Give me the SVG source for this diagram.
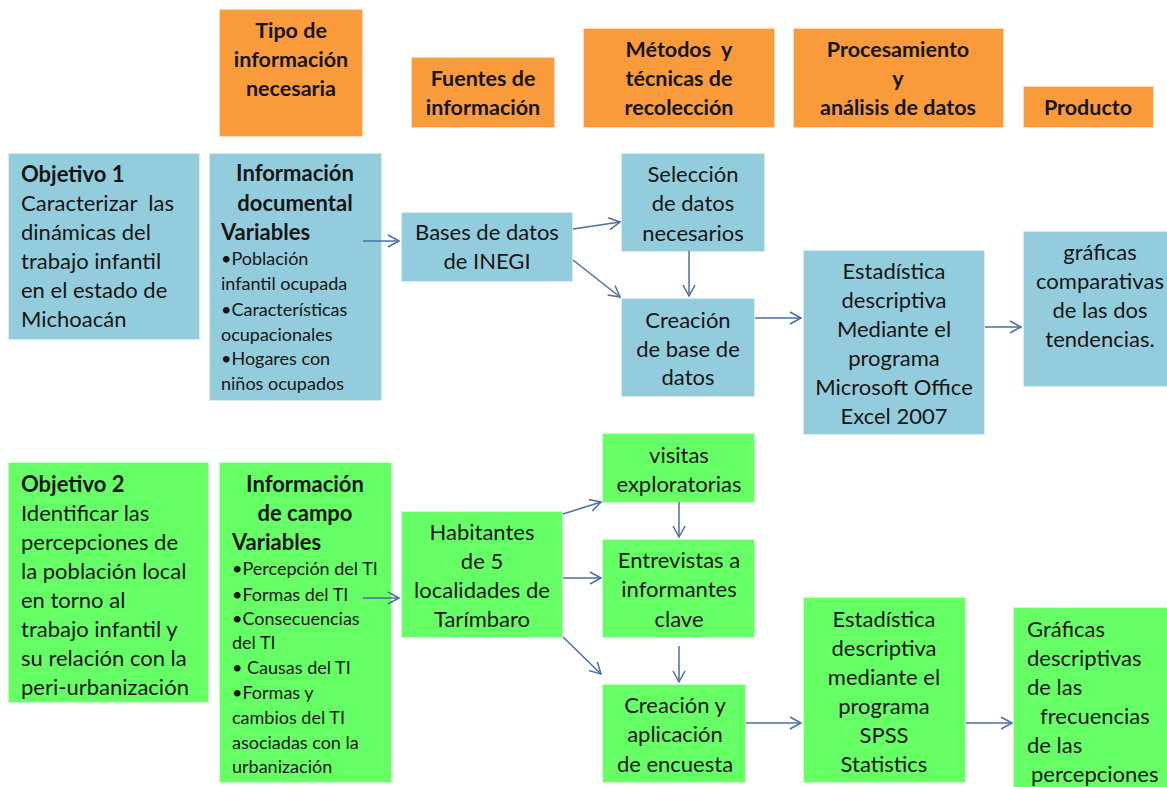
<svg xmlns="http://www.w3.org/2000/svg" width="1167" height="787" viewBox="0 0 1167 787">
<style>
.hdr{fill:#F99B3B;stroke:#FFD9B3;stroke-width:1}
.blu{fill:#93CDDD;stroke:#D4ECF2;stroke-width:1}
.grn{fill:#66FF66;stroke:#C8FFC8;stroke-width:1}
text{font-family:Lato,"Open Sans","Liberation Sans",sans-serif;fill:#151515}
.h{font-size:21.5px;font-weight:bold;text-anchor:middle}
.t{font-size:22px}
.c{text-anchor:middle}
.b{font-weight:bold}
.s{font-size:18px}
.cn line{stroke:#4A6FA5;stroke-width:1.5;fill:none;marker-end:url(#ah)}
</style>
<defs>
<marker id="ah" markerUnits="userSpaceOnUse" markerWidth="14" markerHeight="16" refX="12" refY="7" orient="auto">
<path d="M1,1 L12,7 L1,13" fill="none" stroke="#4A6FA5" stroke-width="1.5"/>
</marker>
</defs>
<rect width="1167" height="787" fill="#fff"/>
<g id="h1"><rect class="hdr" x="219.5" y="9.5" width="143" height="127"/>
<text class="h" x="291" y="38">Tipo de</text><text class="h" x="291" y="67">información</text><text class="h" x="291" y="96">necesaria</text></g>
<g id="h2"><rect class="hdr" x="411.5" y="57.5" width="143" height="70"/>
<text class="h" x="483" y="86">Fuentes de</text><text class="h" x="483" y="115">información</text></g>
<g id="h3"><rect class="hdr" x="583.5" y="28.5" width="191" height="99"/>
<text class="h" x="679" y="57" xml:space="preserve">Métodos  y</text><text class="h" x="679" y="86">técnicas de</text><text class="h" x="679" y="115">recolección</text></g>
<g id="h4"><rect class="hdr" x="793.5" y="28.5" width="210" height="99"/>
<text class="h" x="898" y="57">Procesamiento</text><text class="h" x="898" y="86">y</text><text class="h" x="898" y="115">análisis de datos</text></g>
<g id="h5"><rect class="hdr" x="1023.5" y="86.5" width="130" height="41"/>
<text class="h" x="1088" y="115">Producto</text></g>

<g id="obj1"><rect class="blu" x="8.5" y="153.5" width="191" height="186"/>
<text class="t b" x="21" y="182">Objetivo 1</text>
<text class="t" x="21" y="211" xml:space="preserve">Caracterizar  las</text>
<text class="t" x="21" y="240">dinámicas del</text>
<text class="t" x="21" y="269">trabajo infantil</text>
<text class="t" x="21" y="298">en el estado de</text>
<text class="t" x="21" y="327">Michoacán</text></g>

<g id="info1"><rect class="blu" x="209.5" y="153.5" width="172" height="247"/>
<text class="t b c" x="295" y="181">Información</text>
<text class="t b c" x="295" y="211">documental</text>
<text class="t b" x="221" y="240">Variables</text>
<text class="s" x="221" y="265">•Población</text>
<text class="s" x="221" y="290">infantil ocupada</text>
<text class="s" x="221" y="316">•Características</text>
<text class="s" x="221" y="341">ocupacionales</text>
<text class="s" x="221" y="365">•Hogares con</text>
<text class="s" x="221" y="390">niños ocupados</text></g>

<g id="bases"><rect class="blu" x="401.5" y="212.5" width="171" height="69"/>
<text class="t c" x="487" y="240">Bases de datos</text><text class="t c" x="487" y="269">de INEGI</text></g>

<g id="sel"><rect class="blu" x="621.5" y="153.5" width="143" height="98"/>
<text class="t c" x="693" y="182">Selección</text><text class="t c" x="693" y="211">de datos</text><text class="t c" x="693" y="241">necesarios</text></g>

<g id="crea1"><rect class="blu" x="621.5" y="298.5" width="133" height="98"/>
<text class="t c" x="688" y="328">Creación</text><text class="t c" x="688" y="357">de base de</text><text class="t c" x="688" y="385">datos</text></g>

<g id="est1"><rect class="blu" x="803.5" y="250.5" width="181" height="184"/>
<text class="t c" x="894" y="279">Estadística</text><text class="t c" x="894" y="308">descriptiva</text><text class="t c" x="894" y="337">Mediante el</text><text class="t c" x="894" y="366">programa</text><text class="t c" x="894" y="395">Microsoft Office</text><text class="t c" x="894" y="424">Excel 2007</text></g>

<g id="graf1"><rect class="blu" x="1023.5" y="231.5" width="145" height="155"/>
<text class="t c" x="1100" y="260">gráficas</text><text class="t c" x="1100" y="289">comparativas</text><text class="t c" x="1100" y="318">de las dos</text><text class="t c" x="1100" y="347">tendencias.</text></g>

<g id="obj2"><rect class="grn" x="8.5" y="462.5" width="200" height="240"/>
<text class="t b" x="21" y="492">Objetivo 2</text>
<text class="t" x="21" y="521">Identificar las</text>
<text class="t" x="21" y="550">percepciones de</text>
<text class="t" x="21" y="579">la población local</text>
<text class="t" x="21" y="608">en torno al</text>
<text class="t" x="21" y="637">trabajo infantil y</text>
<text class="t" x="21" y="666">su relación con la</text>
<text class="t" x="21" y="695">peri-urbanización</text></g>

<g id="info2"><rect class="grn" x="219.5" y="462.5" width="172" height="320"/>
<text class="t b c" x="305" y="492">Información</text>
<text class="t b c" x="305" y="521">de campo</text>
<text class="t b" x="232" y="550">Variables</text>
<text class="s" x="232" y="575">•Percepción del TI</text>
<text class="s" x="232" y="601">•Formas del TI</text>
<text class="s" x="232" y="625">•Consecuencias</text>
<text class="s" x="232" y="649">del TI</text>
<text class="s" x="232" y="674" xml:space="preserve">• Causas del TI</text>
<text class="s" x="232" y="699">•Formas y</text>
<text class="s" x="232" y="724">cambios del TI</text>
<text class="s" x="232" y="749">asociadas con la</text>
<text class="s" x="232" y="773">urbanización</text></g>

<g id="hab"><rect class="grn" x="401.5" y="511.5" width="161" height="126"/>
<text class="t c" x="482" y="540">Habitantes</text><text class="t c" x="482" y="569">de 5</text><text class="t c" x="482" y="598">localidades de</text><text class="t c" x="482" y="627">Tarímbaro</text></g>

<g id="vis"><rect class="grn" x="602.5" y="433.5" width="152" height="69"/>
<text class="t c" x="679" y="463">visitas</text><text class="t c" x="679" y="492">exploratorias</text></g>

<g id="ent"><rect class="grn" x="602.5" y="539.5" width="152" height="98"/>
<text class="t c" x="679" y="568">Entrevistas a</text><text class="t c" x="679" y="597">informantes</text><text class="t c" x="679" y="627">clave</text></g>

<g id="crea2"><rect class="grn" x="602.5" y="684.5" width="143" height="98"/>
<text class="t c" x="675" y="713">Creación y</text><text class="t c" x="675" y="742">aplicación</text><text class="t c" x="675" y="772">de encuesta</text></g>

<g id="est2"><rect class="grn" x="803.5" y="597.5" width="162" height="185"/>
<text class="t c" x="884" y="627">Estadística</text><text class="t c" x="884" y="656">descriptiva</text><text class="t c" x="884" y="685">mediante el</text><text class="t c" x="884" y="714">programa</text><text class="t c" x="884" y="743">SPSS</text><text class="t c" x="884" y="772">Statistics</text></g>

<g id="graf2"><rect class="grn" x="1013.5" y="607.5" width="155" height="182"/>
<text class="t" x="1027" y="637">Gráficas</text><text class="t" x="1027" y="666">descriptivas</text><text class="t" x="1027" y="695">de las</text><text class="t" x="1040" y="724">frecuencias</text><text class="t" x="1027" y="753">de las</text><text class="t" x="1031" y="782">percepciones</text></g>

<g id="connectors" class="cn">
<line x1="363" y1="241" x2="399" y2="241"/>
<line x1="573" y1="229" x2="620" y2="222"/>
<line x1="573" y1="260" x2="620" y2="297"/>
<line x1="689" y1="251" x2="689" y2="296"/>
<line x1="755" y1="318" x2="801" y2="318"/>
<line x1="985" y1="327" x2="1021" y2="327"/>
<line x1="363" y1="598" x2="399" y2="598"/>
<line x1="563" y1="514" x2="601" y2="502"/>
<line x1="563" y1="578" x2="601" y2="578"/>
<line x1="563" y1="637" x2="601" y2="674"/>
<line x1="679" y1="502" x2="679" y2="537"/>
<line x1="679" y1="646" x2="679" y2="682"/>
<line x1="746" y1="723" x2="801" y2="723"/>
<line x1="966" y1="723" x2="1012" y2="723"/>
</g>
</svg>
